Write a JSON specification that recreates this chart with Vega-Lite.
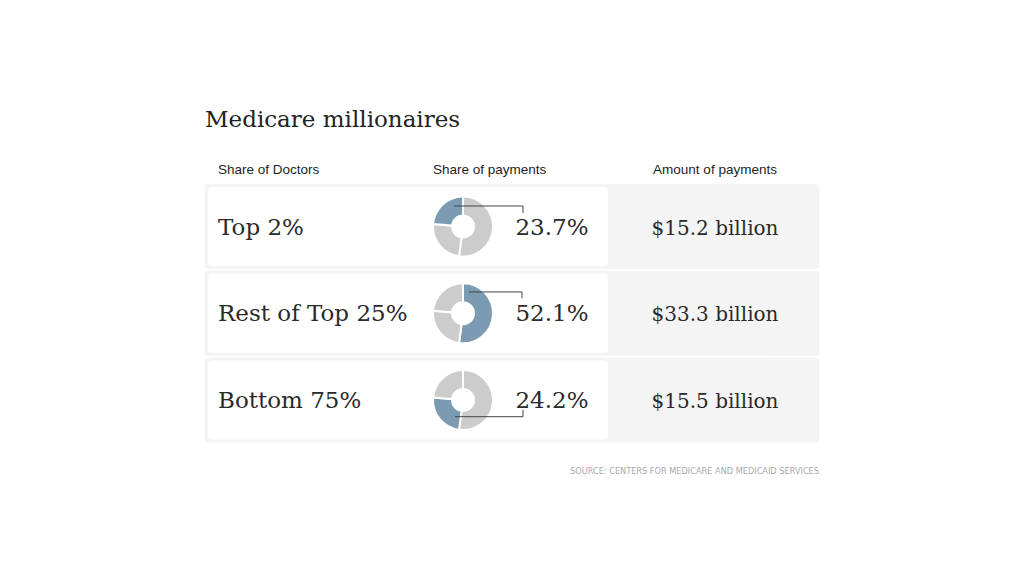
{
  "$schema": "https://vega.github.io/schema/vega-lite/v6.json",
  "width": 1024,
  "height": 576,
  "padding": 0,
  "autosize": {"type": "none"},
  "background": "#ffffff",
  "config": {"view": {"stroke": null}},
  "datasets": {
    "rows": [
      {"rank": 1, "group": "Top 2%", "share": 0.237, "amount": "$15.2 billion"},
      {"rank": 2, "group": "Rest of Top 25%", "share": 0.521, "amount": "$33.3 billion"},
      {"rank": 3, "group": "Bottom 75%", "share": 0.242, "amount": "$15.5 billion"}
    ],
    "slices": [
      {"rank": 1, "group": "Top 2%", "segment": "Rest of Top 25%", "order": 1, "share": 52.1},
      {"rank": 1, "group": "Top 2%", "segment": "Bottom 75%", "order": 2, "share": 24.2},
      {"rank": 1, "group": "Top 2%", "segment": "Top 2%", "order": 3, "share": 23.7},
      {"rank": 2, "group": "Rest of Top 25%", "segment": "Rest of Top 25%", "order": 1, "share": 52.1},
      {"rank": 2, "group": "Rest of Top 25%", "segment": "Bottom 75%", "order": 2, "share": 24.2},
      {"rank": 2, "group": "Rest of Top 25%", "segment": "Top 2%", "order": 3, "share": 23.7},
      {"rank": 3, "group": "Bottom 75%", "segment": "Rest of Top 25%", "order": 1, "share": 52.1},
      {"rank": 3, "group": "Bottom 75%", "segment": "Bottom 75%", "order": 2, "share": 24.2},
      {"rank": 3, "group": "Bottom 75%", "segment": "Top 2%", "order": 3, "share": 23.7}
    ],
    "labels": [
      {"id": "title", "text": "Medicare millionaires"},
      {"id": "h1", "text": "Share of Doctors"},
      {"id": "h2", "text": "Share of payments"},
      {"id": "h3", "text": "Amount of payments"},
      {"id": "source", "text": "SOURCE: CENTERS FOR MEDICARE AND MEDICAID SERVICES"}
    ]
  },
  "layer": [
    {
      "data": {"name": "rows"},
      "mark": {"type": "rect", "fill": "#f4f4f4", "cornerRadius": 3, "yOffset": -42.5, "y2Offset": 42.5},
      "encoding": {
        "x": {"datum": 205, "scale": {"domain": [0, 1024], "range": [0, 1024], "nice": false, "zero": false}, "axis": null},
        "x2": {"datum": 819},
        "y": {"field": "rank", "type": "quantitative", "scale": {"domain": [-1.611, 5.0288], "range": [0, 576], "nice": false, "zero": false}, "axis": null},
        "y2": {"field": "rank"}
      }
    },
    {
      "data": {"name": "rows"},
      "mark": {"type": "rect", "fill": "#ffffff", "cornerRadius": 3, "yOffset": -39.5, "y2Offset": 39.5},
      "encoding": {
        "x": {"datum": 208},
        "x2": {"datum": 608},
        "y": {"field": "rank", "type": "quantitative"},
        "y2": {"field": "rank"}
      }
    },
    {
      "data": {"name": "slices"},
      "transform": [
        {"stack": "share", "groupby": ["group"], "sort": [{"field": "order", "order": "ascending"}], "as": ["start", "end"]}
      ],
      "mark": {"type": "arc", "radius": 30, "radius2": 11, "stroke": "#ffffff", "strokeWidth": 2},
      "encoding": {
        "x": {"datum": 463},
        "y": {"field": "rank", "type": "quantitative", "stack": null},
        "theta": {"field": "start", "type": "quantitative", "stack": null, "scale": {"domain": [0, 100], "range": [0, 6.283185]}},
        "theta2": {"field": "end"},
        "color": {
          "condition": {"test": "datum.segment === datum.group", "value": "#7b9bb3"},
          "value": "#cccccc"
        }
      }
    },
    {
      "data": {"name": "rows"},
      "transform": [{"filter": "datum.rank === 1"}],
      "mark": {"type": "rule", "color": "#444444", "strokeWidth": 1, "yOffset": -20.5},
      "encoding": {"x": {"datum": 454}, "x2": {"datum": 523}, "y": {"field": "rank", "type": "quantitative"}}
    },
    {
      "data": {"name": "rows"},
      "transform": [{"filter": "datum.rank === 1"}],
      "mark": {"type": "rule", "color": "#444444", "strokeWidth": 1, "yOffset": -20.5, "y2Offset": -13.5},
      "encoding": {"x": {"datum": 523}, "y": {"field": "rank", "type": "quantitative"}, "y2": {"field": "rank"}}
    },
    {
      "data": {"name": "rows"},
      "transform": [{"filter": "datum.rank === 2"}],
      "mark": {"type": "rule", "color": "#444444", "strokeWidth": 1, "yOffset": -21.3},
      "encoding": {"x": {"datum": 469}, "x2": {"datum": 522}, "y": {"field": "rank", "type": "quantitative"}}
    },
    {
      "data": {"name": "rows"},
      "transform": [{"filter": "datum.rank === 2"}],
      "mark": {"type": "rule", "color": "#444444", "strokeWidth": 1, "yOffset": -21.3, "y2Offset": -15},
      "encoding": {"x": {"datum": 522}, "y": {"field": "rank", "type": "quantitative"}, "y2": {"field": "rank"}}
    },
    {
      "data": {"name": "rows"},
      "transform": [{"filter": "datum.rank === 3"}],
      "mark": {"type": "rule", "color": "#444444", "strokeWidth": 1, "yOffset": 16.7},
      "encoding": {"x": {"datum": 455}, "x2": {"datum": 523}, "y": {"field": "rank", "type": "quantitative"}}
    },
    {
      "data": {"name": "rows"},
      "transform": [{"filter": "datum.rank === 3"}],
      "mark": {"type": "rule", "color": "#444444", "strokeWidth": 1, "yOffset": 10, "y2Offset": 16.7},
      "encoding": {"x": {"datum": 523}, "y": {"field": "rank", "type": "quantitative"}, "y2": {"field": "rank"}}
    },
    {
      "data": {"name": "rows"},
      "mark": {"type": "text", "font": "DejaVu Serif", "fontSize": 23, "color": "#2a2a2a", "align": "left", "baseline": "middle", "dy": 1},
      "encoding": {"x": {"datum": 218}, "y": {"field": "rank", "type": "quantitative"}, "text": {"field": "group"}}
    },
    {
      "data": {"name": "rows"},
      "mark": {"type": "text", "font": "DejaVu Serif", "fontSize": 23, "color": "#2a2a2a", "align": "center", "baseline": "middle", "dy": 1},
      "encoding": {"x": {"datum": 552}, "y": {"field": "rank", "type": "quantitative"}, "text": {"field": "share", "type": "quantitative", "format": ".1%"}}
    },
    {
      "data": {"name": "rows"},
      "mark": {"type": "text", "font": "DejaVu Serif", "fontSize": 20, "color": "#2a2a2a", "align": "center", "baseline": "middle", "dy": 2},
      "encoding": {"x": {"datum": 715}, "y": {"field": "rank", "type": "quantitative"}, "text": {"field": "amount"}}
    },
    {
      "data": {"name": "labels"},
      "transform": [{"filter": "datum.id === 'title'"}],
      "mark": {"type": "text", "font": "DejaVu Serif", "fontSize": 23, "color": "#222222", "align": "left", "baseline": "alphabetic"},
      "encoding": {"x": {"datum": 205}, "y": {"datum": -0.147}, "text": {"field": "text"}}
    },
    {
      "data": {"name": "labels"},
      "transform": [{"filter": "datum.id === 'h1'"}],
      "mark": {"type": "text", "font": "Liberation Sans", "fontSize": 13.5, "color": "#1e1e1e", "align": "left", "baseline": "alphabetic"},
      "encoding": {"x": {"datum": 218}, "y": {"datum": 0.395}, "text": {"field": "text"}}
    },
    {
      "data": {"name": "labels"},
      "transform": [{"filter": "datum.id === 'h2'"}],
      "mark": {"type": "text", "font": "Liberation Sans", "fontSize": 13.5, "color": "#1e1e1e", "align": "left", "baseline": "alphabetic"},
      "encoding": {"x": {"datum": 433}, "y": {"datum": 0.395}, "text": {"field": "text"}}
    },
    {
      "data": {"name": "labels"},
      "transform": [{"filter": "datum.id === 'h3'"}],
      "mark": {"type": "text", "font": "Liberation Sans", "fontSize": 13.5, "color": "#1e1e1e", "align": "center", "baseline": "alphabetic"},
      "encoding": {"x": {"datum": 715}, "y": {"datum": 0.395}, "text": {"field": "text"}}
    },
    {
      "data": {"name": "labels"},
      "transform": [{"filter": "datum.id === 'source'"}],
      "mark": {"type": "text", "font": "DejaVu Sans", "fontSize": 8.2, "color": "#aaaaaa", "align": "right", "baseline": "alphabetic"},
      "encoding": {"x": {"datum": 819}, "y": {"datum": 3.853}, "text": {"field": "text"}}
    }
  ]
}
